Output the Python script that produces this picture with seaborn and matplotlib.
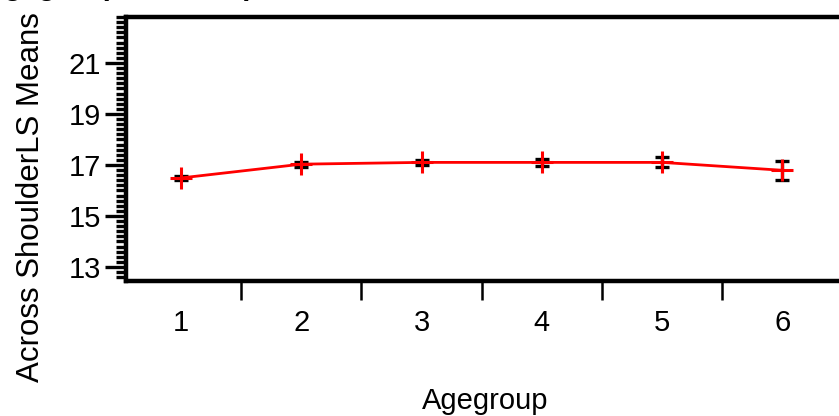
import matplotlib
matplotlib.use("Agg")
import matplotlib.pyplot as plt
from matplotlib.ticker import MultipleLocator, FixedLocator, NullFormatter
import seaborn as sns
import pandas as pd

# Least squares means of Across Shoulder by age group
agegroups = [1, 2, 3, 4, 5, 6]
ls_means = [16.49, 17.03, 17.10, 17.10, 17.10, 16.79]
std_errors = [0.09, 0.10, 0.09, 0.14, 0.20, 0.37]
y_tick_values = [13, 15, 17, 19, 21]

df = pd.DataFrame({"Agegroup": agegroups, "LSMean": ls_means, "SE": std_errors})

sns.set_theme(style="white")
plt.rcParams["font.family"] = ["Liberation Sans", "DejaVu Sans"]
plt.rcParams["text.color"] = "black"
plt.rcParams["xtick.color"] = "black"
plt.rcParams["ytick.color"] = "black"
plt.rcParams["xtick.labelcolor"] = "black"
plt.rcParams["ytick.labelcolor"] = "black"

W, H = 839, 416
fig = plt.figure(figsize=(W / 100, H / 100), dpi=100)
left, right, top, bottom = 126, 845, 17, 281
ax = fig.add_axes([left / W, 1 - bottom / H, (right - left) / W, (bottom - top) / H])

# error bars first, then the mean line with plus markers on top
ax.errorbar(df["Agegroup"], df["LSMean"], yerr=df["SE"], fmt="none",
            ecolor="black", elinewidth=2.4, capsize=5, capthick=2.4, zorder=2)
sns.lineplot(data=df, x="Agegroup", y="LSMean", ax=ax, color="red",
             linewidth=2, marker="+", markersize=16, markeredgewidth=2.2,
             markeredgecolor="red", zorder=3)

ax.set_xlim(0.543, 6.52)
ax.set_ylim(12.45, 22.8)

# x axis: labels centred on groups, tick marks between groups
ax.set_xticks(agegroups)
ax.set_xticklabels([str(a) for a in agegroups])
ax.xaxis.set_minor_locator(FixedLocator([1.5, 2.5, 3.5, 4.5, 5.5]))
ax.tick_params(axis="x", which="major", length=0, pad=20, labelsize=21,
               labelcolor="black")
ax.tick_params(axis="x", which="minor", direction="out", length=14, width=1.8,
               color="black", bottom=True)

# y axis: labelled odd values, unit ticks and fine 0.2 ticks
ax.set_yticks(y_tick_values)
ax.set_yticklabels([str(v) for v in y_tick_values])
ax.yaxis.set_minor_locator(MultipleLocator(0.2))
ax.yaxis.set_minor_formatter(NullFormatter())
ax.tick_params(axis="y", which="major", direction="out", length=15, width=2.4,
               color="black", left=True, labelsize=21, pad=3, labelcolor="black")
ax.tick_params(axis="y", which="minor", direction="out", length=7, width=2.4,
               color="black", left=True)

for side in ["top", "bottom", "left"]:
    ax.spines[side].set_visible(True)
    ax.spines[side].set_color("black")
    ax.spines[side].set_linewidth(3.2)
ax.spines["right"].set_visible(False)

ax.set_xlabel("")
ax.set_ylabel("")
ax.grid(False)

fig.text(485 / W, 1 - 401 / H, "Agegroup", ha="center", va="center",
         fontsize=21, color="black")
fig.text(31 / W, 1 - 197 / H, "Across ShoulderLS Means", ha="center", va="center",
         rotation=90, fontsize=22.5, color="black")
fig.text(-0.02, (H + 5.5) / H, "Agegroup Least Squares Means", ha="left",
         va="baseline", fontsize=21, fontweight="bold", color="black")

fig.savefig("out.png", dpi=100)
